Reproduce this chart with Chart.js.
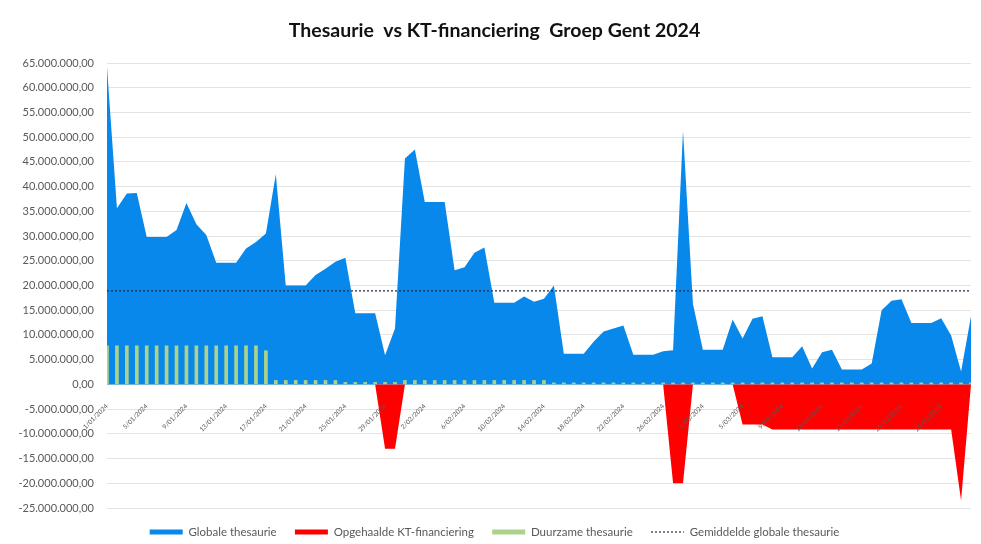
<!DOCTYPE html>
<html>
<head>
<meta charset="utf-8">
<script src="https://cdn.jsdelivr.net/npm/chart.js@4.4.1/dist/chart.umd.min.js"></script>
<style>
  body { margin: 0; background: #fff; }
  #wrap { width: 981px; height: 544px; }
</style>
</head>
<body>
<div id="wrap"><canvas id="grafiek" width="981" height="544"></canvas></div>
<script>
// dagen 1/01/2024 - 28/03/2024
var dagen = [
  "1/01/2024","2/01/2024","3/01/2024","4/01/2024","5/01/2024","6/01/2024","7/01/2024","8/01/2024","9/01/2024","10/01/2024",
  "11/01/2024","12/01/2024","13/01/2024","14/01/2024","15/01/2024","16/01/2024","17/01/2024","18/01/2024","19/01/2024","20/01/2024",
  "21/01/2024","22/01/2024","23/01/2024","24/01/2024","25/01/2024","26/01/2024","27/01/2024","28/01/2024","29/01/2024","30/01/2024",
  "31/01/2024","1/02/2024","2/02/2024","3/02/2024","4/02/2024","5/02/2024","6/02/2024","7/02/2024","8/02/2024","9/02/2024",
  "10/02/2024","11/02/2024","12/02/2024","13/02/2024","14/02/2024","15/02/2024","16/02/2024","17/02/2024","18/02/2024","19/02/2024",
  "20/02/2024","21/02/2024","22/02/2024","23/02/2024","24/02/2024","25/02/2024","26/02/2024","27/02/2024","28/02/2024","29/02/2024",
  "1/03/2024","2/03/2024","3/03/2024","4/03/2024","5/03/2024","6/03/2024","7/03/2024","8/03/2024","9/03/2024","10/03/2024",
  "11/03/2024","12/03/2024","13/03/2024","14/03/2024","15/03/2024","16/03/2024","17/03/2024","18/03/2024","19/03/2024","20/03/2024",
  "21/03/2024","22/03/2024","23/03/2024","24/03/2024","25/03/2024","26/03/2024","27/03/2024","28/03/2024"
];

// bedragen in miljoen euro
var globaleThesaurie = [
  64.2, 35.6, 38.6, 38.7, 29.8, 29.8, 29.8, 31.2, 36.7, 32.4,
  30.2, 24.6, 24.6, 24.6, 27.5, 28.8, 30.5, 42.5, 20.0, 20.0,
  20.0, 22.1, 23.4, 24.8, 25.6, 14.4, 14.4, 14.4, 5.9, 11.3,
  45.7, 47.5, 36.9, 36.9, 36.9, 23.1, 23.7, 26.6, 27.7, 16.5,
  16.5, 16.5, 17.8, 16.7, 17.3, 20.0, 6.2, 6.2, 6.2, 8.6,
  10.7, 11.3, 11.9, 6.0, 6.0, 6.0, 6.7, 6.9, 51.3, 16.3,
  7.0, 7.0, 7.0, 13.1, 9.3, 13.3, 13.8, 5.5, 5.5, 5.5,
  7.7, 3.2, 6.5, 7.0, 3.0, 3.0, 3.0, 4.2, 15.0, 16.9,
  17.2, 12.4, 12.4, 12.4, 13.4, 9.9, 2.6, 13.8
];

var ktFinanciering = [
  0, 0, 0, 0, 0, 0, 0, 0, 0, 0,
  0, 0, 0, 0, 0, 0, 0, 0, 0, 0,
  0, 0, 0, 0, 0, 0, 0, 0, -13.0, -13.0,
  0, 0, 0, 0, 0, 0, 0, 0, 0, 0,
  0, 0, 0, 0, 0, 0, 0, 0, 0, 0,
  0, 0, 0, 0, 0, 0, 0, -20.0, -20.0, 0,
  0, 0, 0, 0, -8.1, -8.1, -8.1, -9.1, -9.1, -9.1,
  -9.1, -9.1, -9.1, -9.1, -9.1, -9.1, -9.1, -9.1, -9.1, -9.1,
  -9.1, -9.1, -9.1, -9.1, -9.1, -9.1, -23.5, 0
];

var duurzameThesaurie = [
  7.8, 7.8, 7.8, 7.8, 7.8, 7.8, 7.8, 7.8, 7.8, 7.8,
  7.8, 7.8, 7.8, 7.8, 7.8, 7.8, 6.8, 0.8, 0.8, 0.8,
  0.8, 0.8, 0.8, 0.8, 0.4, 0.4, 0.4, 0.4, 0.4, 0.4,
  0.8, 0.8, 0.8, 0.8, 0.8, 0.8, 0.8, 0.8, 0.8, 0.8,
  0.8, 0.8, 0.8, 0.8, 0.8, 0.3, 0.3, 0.3, 0.3, 0.3,
  0.3, 0.3, 0.3, 0.3, 0.3, 0.3, 0.3, 0.3, 0.3, 0.3,
  0.3, 0.3, 0.3, 0.3, 0.3, 0.3, 0.3, 0.3, 0.3, 0.3,
  0.3, 0.3, 0.3, 0.3, 0.3, 0.3, 0.3, 0.3, 0.3, 0.3,
  0.3, 0.3, 0.3, 0.3, 0.3, 0.3, 0.3, 0.3
];

var gemiddelde = 18.9;

var yTicks = { min: -25, max: 65, stap: 5 };

var kleurBlauw = "#0788EA";
var kleurRood = "#FF0000";
var kleurGroen = "#ADD38A";
var kleurGemiddelde = "#1F2A44";
var kleurTekst = "#595959";

function bedrag(v) {
  var n = Math.round(v * 1000000);
  var s = Math.abs(n).toString().replace(/\B(?=(\d{3})+(?!\d))/g, ".");
  return (n < 0 ? "-" : "") + s + ",00";
}

var ctx = document.getElementById("grafiek").getContext("2d");

var grafiek = new Chart(ctx, {
  data: {
    labels: dagen,
    datasets: [
      {
        type: "line",
        label: "Globale thesaurie",
        data: globaleThesaurie,
        backgroundColor: kleurBlauw,
        borderColor: kleurBlauw,
        borderWidth: 0,
        pointRadius: 0,
        tension: 0,
        fill: "origin",
        order: 4
      },
      {
        type: "line",
        label: "Opgehaalde KT-financiering",
        data: ktFinanciering,
        backgroundColor: kleurRood,
        borderColor: kleurRood,
        borderWidth: 0,
        pointRadius: 0,
        tension: 0,
        fill: "origin",
        order: 3
      },
      {
        type: "bar",
        label: "Duurzame thesaurie",
        data: duurzameThesaurie,
        backgroundColor: kleurGroen,
        borderWidth: 0,
        barThickness: 3,
        order: 2
      },
      {
        type: "line",
        label: "Gemiddelde globale thesaurie",
        data: dagen.map(function () { return gemiddelde; }),
        borderColor: kleurGemiddelde,
        backgroundColor: "transparent",
        borderWidth: 1.2,
        borderDash: [2, 2],
        pointRadius: 0,
        fill: false,
        order: 1
      }
    ]
  },
  options: {
    responsive: false,
    animation: false,
    layout: {
      padding: { left: 18, right: 10, top: 0, bottom: -3.75 }
    },
    plugins: {
      title: {
        display: true,
        text: "Thesaurie  vs KT-financiering  Groep Gent 2024",
        color: "#111",
        font: { family: "Lato", size: 19.5, weight: "bold" },
        padding: { top: 19.3, bottom: 20.3 }
      },
      legend: {
        position: "bottom",
        labels: {
          usePointStyle: true,
          pointStyleWidth: 33,
          padding: 18.25,
          color: kleurTekst,
          font: { family: "Lato", size: 11.5 },
          generateLabels: function (chart) {
            return [
              { text: "Globale thesaurie", pointStyle: "line", strokeStyle: kleurBlauw, fillStyle: kleurBlauw, lineWidth: 5, datasetIndex: 0, fontColor: kleurTekst },
              { text: "Opgehaalde KT-financiering", pointStyle: "line", strokeStyle: kleurRood, fillStyle: kleurRood, lineWidth: 5, datasetIndex: 1, fontColor: kleurTekst },
              { text: "Duurzame thesaurie", pointStyle: "line", strokeStyle: kleurGroen, fillStyle: kleurGroen, lineWidth: 5, datasetIndex: 2, fontColor: kleurTekst },
              { text: "Gemiddelde globale thesaurie", pointStyle: "line", strokeStyle: kleurGemiddelde, fillStyle: kleurGemiddelde, lineWidth: 1.2, lineDash: [2, 2], datasetIndex: 3, fontColor: kleurTekst }
            ];
          }
        }
      },
      tooltip: { enabled: false }
    },
    scales: {
      x: {
        type: "category",
        position: { y: 0 },
        offset: false,
        afterFit: function (scale) {
          scale.paddingRight = 0;
        },
        grid: { display: false },
        border: { display: false },
        ticks: {
          z: 1,
          autoSkip: false,
          maxRotation: 45,
          minRotation: 45,
          padding: 10,
          color: kleurTekst,
          font: { family: "Lato", size: 6.5 },
          callback: function (v, i) {
            return i % 4 === 0 ? dagen[i] : "";
          }
        }
      },
      y: {
        min: yTicks.min,
        max: yTicks.max,
        afterFit: function (scale) {
          scale.width = 89;
        },
        grid: { color: "#E3E3E3", lineWidth: 1, drawTicks: false },
        border: { display: false },
        ticks: {
          stepSize: yTicks.stap,
          padding: 13,
          color: kleurTekst,
          font: { family: "Lato", size: 11 },
          callback: function (v) {
            return bedrag(v);
          }
        }
      }
    }
  }
});
</script>
</body>
</html>
